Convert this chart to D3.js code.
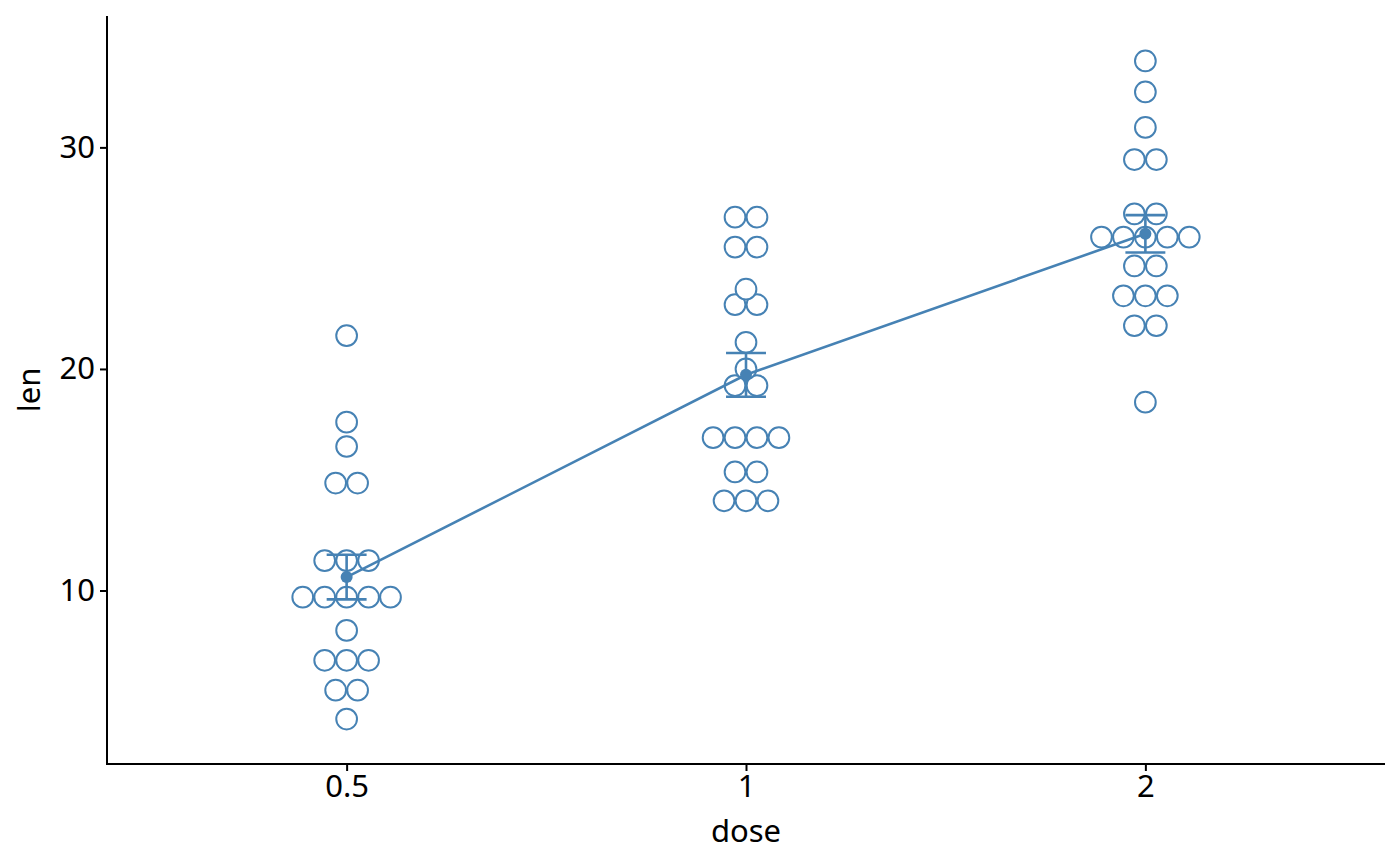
<!DOCTYPE html>
<html>
<head>
<meta charset="utf-8">
<script src="https://cdn.jsdelivr.net/npm/d3@7"></script>
<style>
  body { margin: 0; background: #fff; }
  svg text { font-family: "Noto Sans", "Open Sans", sans-serif; }
</style>
</head>
<body>
<div id="chart"></div>
<script>
// ToothGrowth: tooth length per dose
const doses = ['0.5', '1', '2'];
const lenDose05 = [4.2, 11.5, 7.3, 5.8, 6.4, 10, 11.2, 11.2, 5.2, 7,
                   15.2, 21.5, 17.6, 9.7, 14.5, 10, 8.2, 9.4, 16.5, 9.7];
const lenDose1  = [16.5, 16.5, 15.2, 17.3, 22.5, 17.3, 13.6, 14.5, 18.8, 15.5,
                   19.7, 23.3, 23.6, 26.4, 20, 25.2, 25.8, 21.2, 14.5, 27.3];
const lenDose2  = [23.6, 18.5, 33.9, 25.5, 26.4, 32.5, 26.7, 21.5, 23.3, 29.5,
                   25.5, 26.4, 22.4, 24.5, 24.8, 30.9, 26.4, 27.3, 29.4, 23];
const yTicks = [10, 20, 30];

const lens = [lenDose05, lenDose1, lenDose2];
const width = 1400, height = 866;
const margin = {top: 16, right: 15, bottom: 102, left: 107};
const colour = 'steelblue';

const all = lens.flat();
const binwidth = (d3.max(all) - d3.min(all)) / 30;

// dot-density binning, like geom_dotplot
function densityBins(values){
    const xs = values.slice().sort((a,b)=>a-b);
    const bins = [];
    let end = -Infinity, cur = null;
    xs.forEach(v=>{
        if (v >= end){
            end = v + binwidth;
            cur = {vals: []};
            bins.push(cur);
        }
        cur.vals.push(v);
    });
    bins.forEach(b=>{
        b.center = (d3.min(b.vals) + d3.max(b.vals)) / 2;
        b.count = b.vals.length;
    });
    return bins;
}

const svg = d3.select('#chart').append('svg')
    .attr('width', width)
    .attr('height', height);

// scales
const lo = d3.min(all) - binwidth/2, hi = d3.max(all) + binwidth/2;
const pad = (hi - lo) * 0.05;
const y = d3.scaleLinear()
    .domain([lo - pad, hi + pad])
    .range([height - margin.bottom, margin.top]);
const x = d3.scalePoint()
    .domain(doses)
    .range([margin.left, width - margin.right])
    .padding(0.6);

const r = (y(0) - y(binwidth)) / 2;

// axes
const yAxis = svg.append('g')
    .attr('transform', `translate(${margin.left},0)`)
    .call(d3.axisLeft(y).tickValues(yTicks).tickSize(7).tickPadding(5));
const xAxis = svg.append('g')
    .attr('transform', `translate(0,${height - margin.bottom})`)
    .call(d3.axisBottom(x).tickSize(7).tickPadding(4));
[yAxis, xAxis].forEach(a=>{
    a.attr('font-family', null).attr('font-size', null);
    a.select('.domain').remove();
    a.selectAll('line').attr('stroke', '#000').attr('stroke-width', 2);
    a.selectAll('text').attr('fill', '#000').style('font-size', '31px');
});
svg.append('line')
    .attr('x1', margin.left).attr('x2', margin.left)
    .attr('y1', margin.top).attr('y2', height - margin.bottom + 1)
    .attr('stroke', '#000').attr('stroke-width', 2);
svg.append('line')
    .attr('x1', margin.left - 1).attr('x2', width - margin.right)
    .attr('y1', height - margin.bottom).attr('y2', height - margin.bottom)
    .attr('stroke', '#000').attr('stroke-width', 2);

// axis titles
svg.append('text')
    .attr('x', (margin.left + width - margin.right) / 2)
    .attr('y', 842)
    .attr('text-anchor', 'middle')
    .style('font-size', '31px')
    .text('dose');
svg.append('text')
    .attr('transform', `translate(40,${(margin.top + height - margin.bottom)/2}) rotate(-90)`)
    .attr('text-anchor', 'middle')
    .style('font-size', '31px')
    .text('len');

// dots
const dots = [];
lens.forEach((vals, i)=>{
    densityBins(vals).forEach(b=>{
        for (let k = 0; k < b.count; k++){
            dots.push({dose: doses[i], y: b.center, off: (k - (b.count - 1)/2) * 2 * r});
        }
    });
});
svg.append('g').selectAll('circle')
    .data(dots)
    .join('circle')
    .attr('cx', d=>x(d.dose) + d.off)
    .attr('cy', d=>y(d.y))
    .attr('r', r - 0.6)
    .attr('fill', '#fff')
    .attr('stroke', colour)
    .attr('stroke-width', 2);

// mean +/- se
const summary = lens.map((vals, i)=>{
    const m = d3.mean(vals);
    const se = d3.deviation(vals) / Math.sqrt(vals.length);
    return {dose: doses[i], mean: m, lo: m - se, hi: m + se};
});
const ew = x.step() * 0.05;
const eb = svg.append('g').attr('stroke', colour).attr('stroke-width', 2.6);
summary.forEach(s=>{
    const cx = x(s.dose);
    eb.append('line').attr('x1', cx).attr('x2', cx).attr('y1', y(s.lo)).attr('y2', y(s.hi));
    eb.append('line').attr('x1', cx - ew).attr('x2', cx + ew).attr('y1', y(s.lo)).attr('y2', y(s.lo));
    eb.append('line').attr('x1', cx - ew).attr('x2', cx + ew).attr('y1', y(s.hi)).attr('y2', y(s.hi));
});
svg.append('path')
    .datum(summary)
    .attr('fill', 'none')
    .attr('stroke', colour)
    .attr('stroke-width', 2.6)
    .attr('d', d3.line().x(d=>x(d.dose)).y(d=>y(d.mean)));
svg.append('g').selectAll('circle')
    .data(summary)
    .join('circle')
    .attr('cx', d=>x(d.dose))
    .attr('cy', d=>y(d.mean))
    .attr('r', 6)
    .attr('fill', colour);
</script>
</body>
</html>
